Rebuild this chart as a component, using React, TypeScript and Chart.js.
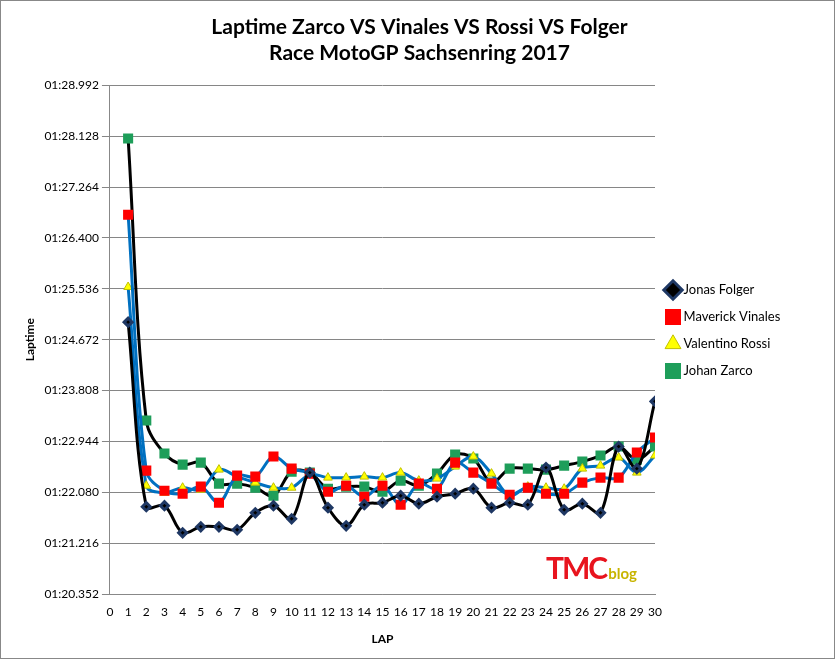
import { useEffect, useRef } from 'react';
import { Chart, registerables } from 'chart.js';

Chart.register(...registerables);

const laps = Array.from({ length: 30 }, (_, i) => i + 1);

const folger = [84.970, 81.835, 81.852, 81.392, 81.494, 81.494, 81.443, 81.732, 81.852, 81.630,
  82.414, 81.818, 81.511, 81.869, 81.903, 82.022, 81.886, 82.005, 82.056, 82.141,
  81.818, 81.903, 81.869, 82.499, 81.783, 81.886, 81.732, 82.857, 82.482, 83.624];
const vinales = [86.794, 82.448, 82.107, 82.056, 82.176, 81.903, 82.363, 82.346, 82.687, 82.482,
  82.397, 82.090, 82.192, 82.005, 82.192, 81.869, 82.227, 82.141, 82.584, 82.414,
  82.227, 82.039, 82.158, 82.056, 82.056, 82.244, 82.329, 82.329, 82.755, 83.010];
const rossi = [85.567, 82.192, 82.073, 82.158, 82.124, 82.465, 82.346, 82.244, 82.158, 82.158,
  82.380, 82.329, 82.329, 82.346, 82.329, 82.414, 82.278, 82.312, 82.516, 82.687,
  82.397, 82.022, 82.176, 82.158, 82.141, 82.482, 82.533, 82.670, 82.414, 82.704];
const zarco = [88.089, 83.300, 82.738, 82.550, 82.584, 82.227, 82.227, 82.158, 82.022, 82.431,
  82.414, 82.141, 82.176, 82.176, 82.090, 82.278, 82.192, 82.397, 82.721, 82.653,
  82.244, 82.482, 82.482, 82.465, 82.533, 82.601, 82.704, 82.857, 82.635, 82.857];

const yMin = 80.352;
const yMax = 88.992;
const yStep = 0.864;

function fmt(v: number) {
  const s = v - 60;
  return '01:' + s.toFixed(3).padStart(6, '0');
}

export default function App() {
  const ref = useRef<HTMLCanvasElement>(null);

  useEffect(() => {
    document.body.style.margin = '0';
    if (!ref.current) return;
    const pts = (arr: number[]) => arr.map((y, i) => ({ x: laps[i], y }));
    const chart = new Chart(ref.current, {
      type: 'line',
      data: {
        datasets: [
          { label: 'Jonas Folger', data: pts(folger), borderColor: '#000', backgroundColor: '#000',
            pointStyle: 'rectRot', pointRadius: 4, pointBorderColor: '#1f3864' },
          { label: 'Maverick Vinales', data: pts(vinales), borderColor: '#0070c0', backgroundColor: '#ff0000',
            pointStyle: 'rect', pointRadius: 5, pointBorderColor: '#ff0000' },
          { label: 'Valentino Rossi', data: pts(rossi), borderColor: '#0070c0', backgroundColor: '#ffff00',
            pointStyle: 'triangle', pointRadius: 5, pointBorderColor: '#c0c000', pointBorderWidth: 1 },
          { label: 'Johan Zarco', data: pts(zarco), borderColor: '#000', backgroundColor: '#1e9e5a',
            pointStyle: 'rect', pointRadius: 5, pointBorderColor: '#1e9e5a' },
        ].map((d) => ({ borderWidth: 3, tension: 0.35, ...d })),
      },
      options: {
        animation: false,
        responsive: false,
        layout: { padding: { top: 10, right: 14, left: 18, bottom: 8 } },
        plugins: {
          title: {
            display: true,
            text: ['Laptime Zarco VS Vinales VS Rossi VS Folger', 'Race MotoGP Sachsenring 2017'],
            font: { family: 'Lato', size: 21, weight: 'bold' },
            color: '#000',
            padding: { top: 4, bottom: 20 },
          },
          legend: {
            position: 'right',
            labels: { usePointStyle: true, font: { family: 'Lato', size: 13 }, color: '#000', boxWidth: 8, padding: 14 },
          },
          tooltip: { enabled: false },
        },
        scales: {
          x: {
            type: 'linear', min: 0, max: 30,
            afterFit: (axis) => { axis.height = 56; },
            ticks: { stepSize: 1, autoSkip: false, maxRotation: 0, color: '#000', font: { family: 'Lato', size: 12 } },
            grid: { display: false },
            border: { color: '#888' },
            title: { display: true, text: 'LAP', color: '#000', font: { family: 'Lato', size: 12, weight: 'bold' }, padding: { top: 12 } },
          },
          y: {
            min: yMin, max: yMax,
            afterBuildTicks: (axis) => {
              const t = [];
              for (let v = yMin; v <= yMax + 1e-6; v += yStep) t.push({ value: v });
              axis.ticks = t;
            },
            ticks: { color: '#000', font: { family: 'Lato', size: 12 }, callback: (v) => fmt(Number(v)) },
            grid: { color: '#868686', drawTicks: true },
            border: { color: '#888' },
            title: { display: true, text: 'Laptime', color: '#000', font: { family: 'Lato', size: 12, weight: 'bold' } },
          },
        },
      },
    });
    // widen the legend box so the plot ends near x=653
    const lg: any = chart.legend;
    const fit = lg.fit.bind(lg);
    lg.fit = () => { fit(); lg.width = 165; };
    chart.update();
    return () => chart.destroy();
  }, []);

  return (
    <div style={{ position: 'relative', width: 835, height: 659, boxSizing: 'border-box', border: '1px solid #888' }}>
      <canvas ref={ref} width={833} height={657} />
      <div style={{ position: 'absolute', left: 545, top: 548, fontFamily: 'Lato', fontWeight: 'bold' }}>
        <span style={{ color: '#e8141e', fontSize: 30, letterSpacing: -2 }}>TMC</span>
        <span style={{ color: '#c8b400', fontSize: 15, marginLeft: 2 }}>blog</span>
      </div>
    </div>
  );
}
